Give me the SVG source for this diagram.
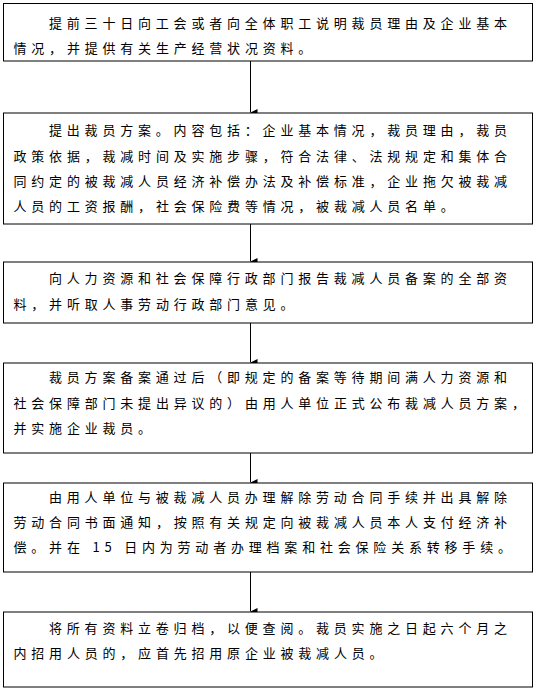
<svg xmlns="http://www.w3.org/2000/svg" width="536" height="689" viewBox="0 0 536 689">
<style>
.box{fill:#fff;stroke:#000;stroke-width:1}
.t{font-family:"Noto Sans CJK SC","Noto Sans",sans-serif;font-size:13px;letter-spacing:4.8px;fill:#000}
.c{stroke:#000;stroke-width:1;fill:none}
</style>
<defs>
<marker id="ah" markerWidth="7" markerHeight="8" refX="3.5" refY="7" orient="auto-start-reverse" markerUnits="userSpaceOnUse" viewBox="0 0 7 8">
<path d="M0,0 L7,0 L3.5,7 Z" fill="#000"/>
</marker>
</defs>
<rect width="536" height="689" fill="#fff"/>
<g id="connectors">
<line class="c" x1="250.5" y1="61" x2="250.5" y2="112.5" marker-end="url(#ah)"/>
<line class="c" x1="250.5" y1="224" x2="250.5" y2="261.5" marker-end="url(#ah)"/>
<line class="c" x1="250.5" y1="323" x2="250.5" y2="362.5" marker-end="url(#ah)"/>
<line class="c" x1="250.5" y1="453" x2="250.5" y2="482.5" marker-end="url(#ah)"/>
<line class="c" x1="250.5" y1="572" x2="250.5" y2="611.5" marker-end="url(#ah)"/>
</g>
<g id="n1">
<rect class="box" x="3.5" y="3.5" width="529" height="57.5"/>
<text class="t" x="49" y="28">提前三十日向工会或者向全体职工说明裁员理由及企业基本</text>
<text class="t" x="13.5" y="53">情况，并提供有关生产经营状况资料。</text>
</g>
<g id="n2">
<rect class="box" x="3.5" y="113" width="529" height="111"/>
<text class="t" x="49" y="135">提出裁员方案。内容包括：企业基本情况，裁员理由，裁员</text>
<text class="t" x="13.5" y="160.5">政策依据，裁减时间及实施步骤，符合法律、法规规定和集体合</text>
<text class="t" x="13.5" y="185.5">同约定的被裁减人员经济补偿办法及补偿标准，企业拖欠被裁减</text>
<text class="t" x="13.5" y="210.5">人员的工资报酬，社会保险费等情况，被裁减人员名单。</text>
</g>
<g id="n3">
<rect class="box" x="3.5" y="262" width="529" height="61"/>
<text class="t" x="49" y="283">向人力资源和社会保障行政部门报告裁减人员备案的全部资</text>
<text class="t" x="13.5" y="309">料，并听取人事劳动行政部门意见。</text>
</g>
<g id="n4">
<rect class="box" x="3.5" y="363" width="529" height="90"/>
<text class="t" x="49" y="382">裁员方案备案通过后（即规定的备案等待期间满人力资源和</text>
<text class="t" x="13.5" y="408">社会保障部门未提出异议的）由用人单位正式公布裁减人员方案，</text>
<text class="t" x="13.5" y="433">并实施企业裁员。</text>
</g>
<g id="n5">
<rect class="box" x="3.5" y="483" width="529" height="89"/>
<text class="t" x="49" y="502">由用人单位与被裁减人员办理解除劳动合同手续并出具解除</text>
<text class="t" x="13.5" y="527">劳动合同书面通知，按照有关规定向被裁减人员本人支付经济补</text>
<text class="t" x="13.5" y="552">偿。并在 15 日内为劳动者办理档案和社会保险关系转移手续。</text>
</g>
<g id="n6">
<rect class="box" x="3.5" y="612" width="529" height="75"/>
<text class="t" x="49" y="633">将所有资料立卷归档，以便查阅。裁员实施之日起六个月之</text>
<text class="t" x="13.5" y="658">内招用人员的，应首先招用原企业被裁减人员。</text>
</g>
</svg>
